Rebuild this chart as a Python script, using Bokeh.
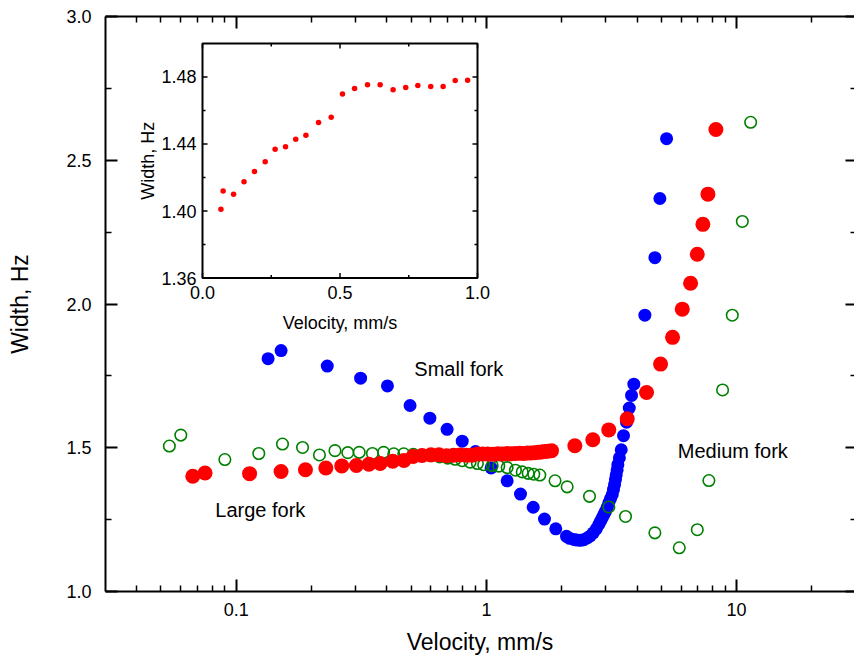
from bokeh.plotting import figure
from bokeh.models import Range1d, FixedTicker, LinearAxis, LogAxis, Label, LinearScale
from bokeh.core.properties import value
from bokeh.embed import file_html
from bokeh.resources import INLINE

FONT = "Liberation Sans"

# ---------------- data ----------------
small_velocity = [0.134, 0.151, 0.231, 0.314, 0.402, 0.495, 0.594, 0.696, 0.800, 0.904,
                  1.044, 1.210, 1.368, 1.538, 1.706, 1.893, 2.089, 2.15, 2.234, 2.30,
                  2.377, 2.45, 2.528, 2.60, 2.673, 2.75, 2.812, 2.86, 2.903, 2.95,
                  2.992, 3.04, 3.084, 3.13, 3.184, 3.22, 3.251, 3.28, 3.302, 3.33,
                  3.352, 3.40, 3.458, 3.532, 3.631, 3.723, 3.802, 3.883, 4.298, 4.714,
                  4.935, 5.248]
small_width = [1.810, 1.838, 1.784, 1.742, 1.715, 1.647, 1.603, 1.564, 1.523, 1.487,
               1.430, 1.385, 1.339, 1.293, 1.252, 1.218, 1.192, 1.185, 1.181, 1.179,
               1.178, 1.180, 1.186, 1.193, 1.204, 1.218, 1.233, 1.245, 1.256, 1.268,
               1.279, 1.293, 1.308, 1.322, 1.337, 1.355, 1.372, 1.390, 1.406, 1.423,
               1.441, 1.465, 1.493, 1.542, 1.589, 1.638, 1.682, 1.721, 1.961, 2.161,
               2.367, 2.575]

large_velocity = [0.067, 0.075, 0.113, 0.151, 0.189, 0.228, 0.264, 0.302, 0.339, 0.376,
                  0.422, 0.468, 0.509, 0.553, 0.600, 0.646, 0.693, 0.739, 0.783, 0.830,
                  0.875, 0.919, 0.964, 1.01, 1.06, 1.11, 1.16, 1.21, 1.26, 1.31,
                  1.36, 1.41, 1.46, 1.51, 1.56, 1.61, 1.66, 1.71, 1.76, 1.82,
                  2.256, 2.662, 3.083, 3.654, 4.365, 4.966, 5.546, 6.064, 6.546, 6.963,
                  7.331, 7.680, 8.265]
large_width = [1.401, 1.412, 1.410, 1.4175, 1.4236, 1.4294, 1.4369, 1.4383, 1.4428, 1.4452,
               1.4529, 1.4559, 1.4698, 1.4731, 1.4753, 1.4753, 1.4723, 1.4737, 1.4749, 1.4743,
               1.4743, 1.4779, 1.4781, 1.478, 1.477, 1.479, 1.478, 1.480, 1.479, 1.480,
               1.481, 1.480, 1.482, 1.482, 1.483, 1.484, 1.485, 1.487, 1.488, 1.490,
               1.507, 1.528, 1.562, 1.601, 1.692, 1.791, 1.884, 1.982, 2.072, 2.173,
               2.277, 2.382, 2.607]

medium_velocity = [0.054, 0.060, 0.090, 0.123, 0.153, 0.184, 0.215, 0.248, 0.279, 0.310,
                   0.350, 0.388, 0.426, 0.467, 0.51, 0.55, 0.60, 0.65, 0.70, 0.75,
                   0.80, 0.86, 0.92, 0.975, 1.054, 1.12, 1.21, 1.306, 1.39, 1.468,
                   1.546, 1.634, 1.88, 2.102, 2.582, 3.085, 3.597, 4.713, 5.899, 6.963,
                   7.748, 8.79, 9.61, 10.54, 11.38]
medium_width = [1.506, 1.544, 1.459, 1.480, 1.513, 1.501, 1.475, 1.490, 1.483, 1.484,
                1.480, 1.484, 1.479, 1.479, 1.477, 1.475, 1.472, 1.468, 1.464, 1.460,
                1.455, 1.450, 1.445, 1.441, 1.438, 1.436, 1.431, 1.422, 1.416, 1.411,
                1.408, 1.405, 1.385, 1.364, 1.331, 1.294, 1.261, 1.204, 1.152, 1.215,
                1.386, 1.701, 1.961, 2.287, 2.632]

inset_velocity = [0.067, 0.075, 0.113, 0.151, 0.189, 0.228, 0.264, 0.302, 0.339, 0.376,
                  0.422, 0.468, 0.509, 0.553, 0.600, 0.646, 0.693, 0.739, 0.783, 0.830,
                  0.875, 0.919, 0.964]
inset_width = [1.401, 1.412, 1.410, 1.4175, 1.4236, 1.4294, 1.4369, 1.4383, 1.4428, 1.4452,
               1.4529, 1.4559, 1.4698, 1.4731, 1.4753, 1.4753, 1.4723, 1.4737, 1.4749, 1.4743,
               1.4743, 1.4779, 1.4781]

x_major_ticks = [0.1, 1, 10]
x_major_labels = ["0.1", "1", "10"]
x_minor_ticks = [0.04, 0.05, 0.06, 0.07, 0.08, 0.09, 0.2, 0.3, 0.4, 0.5, 0.6, 0.7, 0.8, 0.9,
                 2, 3, 4, 5, 6, 7, 8, 9, 20]
y_major_ticks = [1.0, 1.5, 2.0, 2.5, 3.0]
y_major_labels = ["1.0", "1.5", "2.0", "2.5", "3.0"]
y_minor_ticks = [1.25, 1.75, 2.25, 2.75]

inset_x_ticks = [0.0, 0.5, 1.0]
inset_x_labels = ["0.0", "0.5", "1.0"]
inset_x_minor = [0.25, 0.75]
inset_y_ticks = [1.36, 1.40, 1.44, 1.48]
inset_y_labels = ["1.36", "1.40", "1.44", "1.48"]
inset_y_minor = [1.38, 1.42, 1.46]

labels = ["Small fork", "Medium fork", "Large fork"]
label_x = [0.515, 5.82, 0.0824]
label_y = [1.774, 1.487, 1.285]

# ---------------- layout (pixels in figure coords) ----------------
W, H = 854, 657
FL, FT, FR, FB = 105, 16, 854, 592
IL, IR, IT, IB = 202, 477, 43, 278
IX0, IX1, IY0, IY1 = 0.0, 1.0, 1.36, 1.50

ixpp = (IX1 - IX0) / (IR - IL)
iypp = (IY1 - IY0) / (IB - IT)
ix_range = Range1d(IX0 - (IL - FL) * ixpp, IX1 + (FR - IR) * ixpp)
iy_range = Range1d(IY0 - (FB - IB) * iypp, IY1 + (IT - FT) * iypp)

p = figure(width=W, height=H, x_axis_type="log",
           x_range=Range1d(0.03, 29.6), y_range=Range1d(1.0, 3.0),
           output_backend="svg", toolbar_location=None,
           min_border_left=FL, min_border_top=FT, min_border_right=0,
           min_border_bottom=H - FB,
           x_axis_label="Velocity, mm/s", y_axis_label="Width, Hz")
p.extra_x_ranges = {"ix": ix_range}
p.extra_y_ranges = {"iy": iy_range}
p.extra_x_scales = {"ix": LinearScale()}
p.extra_y_scales = {"iy": LinearScale()}
p.outline_line_color = None
p.grid.visible = False
p.background_fill_color = "white"


def style_axis(ax, major_len=12, minor_len=6):
    ax.axis_line_width = 2
    ax.axis_line_color = "black"
    ax.major_tick_in = major_len
    ax.major_tick_out = 0
    ax.minor_tick_in = minor_len
    ax.minor_tick_out = 0
    ax.major_tick_line_width = 2
    ax.minor_tick_line_width = 1.5
    ax.major_label_text_font = FONT
    ax.major_label_text_font_size = "18px"
    ax.major_label_text_color = "black"
    ax.axis_label_text_font = FONT
    ax.axis_label_text_font_size = "23px"
    ax.axis_label_text_font_style = "normal"
    ax.axis_label_text_color = "black"


xax = p.xaxis[0]
xax.ticker = FixedTicker(ticks=x_major_ticks, minor_ticks=x_minor_ticks)
xax.major_label_overrides = dict(zip(x_major_ticks, x_major_labels))
style_axis(xax)
xax.major_label_standoff = 11
xax.axis_label_standoff = 10

yax = p.yaxis[0]
yax.ticker = FixedTicker(ticks=y_major_ticks, minor_ticks=y_minor_ticks)
yax.major_label_overrides = dict(zip(y_major_ticks, y_major_labels))
style_axis(yax)
yax.major_label_standoff = 14
yax.axis_label_standoff = 30

top = LogAxis(ticker=FixedTicker(ticks=x_major_ticks, minor_ticks=x_minor_ticks),
              major_label_overrides={t: "" for t in x_major_ticks})
style_axis(top)
top.major_label_standoff = 0
p.add_layout(top, "above")

right = LinearAxis(ticker=FixedTicker(ticks=y_major_ticks, minor_ticks=y_minor_ticks),
                   major_label_overrides={t: "" for t in y_major_ticks})
style_axis(right, major_len=9, minor_len=4)
right.axis_line_color = None
right.major_label_standoff = 0
p.add_layout(right, "right")

# ---------------- main data ----------------
p.scatter(small_velocity, small_width, size=13, color="#0000FF", line_color=None)
p.scatter(medium_velocity, medium_width, size=11.5, fill_color=None,
          line_color="#008000", line_width=1.6)
p.scatter(large_velocity, large_width, size=15, color="#FF0000", line_color=None)

for t, lx, ly in zip(labels, label_x, label_y):
    p.add_layout(Label(x=lx, y=ly, text=t, text_font=FONT, text_font_size="20px",
                       text_baseline="middle", text_align="left", text_color="black"))

# ---------------- inset ----------------
R = dict(x_range_name="ix", y_range_name="iy")
p.quad(left=[IX0], right=[IX1], bottom=[IY0], top=[IY1], fill_color="white",
       line_color="black", line_width=2, **R)

maj_x, min_x = 5 * iypp, 3 * iypp   # vertical tick lengths (data units)
maj_y, min_y = 5 * ixpp, 3 * ixpp   # horizontal tick lengths (data units)


def vticks(xs, ln):
    n = len(xs)
    p.segment(x0=xs + xs, y0=[IY0] * n + [IY1] * n, x1=xs + xs,
              y1=[IY0 + ln] * n + [IY1 - ln] * n, line_color="black", line_width=1.5, **R)


def hticks(ys, ln):
    n = len(ys)
    p.segment(x0=[IX0] * n + [IX1] * n, y0=ys + ys, x1=[IX0 + ln] * n + [IX1 - ln] * n,
              y1=ys + ys, line_color="black", line_width=1.5, **R)


vticks(inset_x_ticks, maj_x)
vticks(inset_x_minor, min_x)
hticks(inset_y_ticks, maj_y)
hticks(inset_y_minor, min_y)

p.text(x=inset_x_ticks, y=[IY0] * len(inset_x_ticks), text=inset_x_labels,
       text_font=value(FONT), text_font_size="18px", text_align="center",
       text_baseline="top", y_offset=8, **R)
p.text(x=[IX0] * len(inset_y_ticks), y=inset_y_ticks, text=inset_y_labels,
       text_font=value(FONT), text_font_size="18px", text_align="right",
       text_baseline="middle", x_offset=-6, **R)
p.text(x=[(IX0 + IX1) / 2], y=[IY0], text=["Velocity, mm/s"],
       text_font=value(FONT), text_font_size="18px", text_align="center",
       text_baseline="middle", y_offset=45, **R)
p.text(x=[IX0], y=[(IY0 + IY1) / 2], text=["Width, Hz"], angle=1.5707963,
       text_font=value(FONT), text_font_size="18px", text_align="center",
       text_baseline="middle", x_offset=-55, **R)

p.scatter(inset_velocity, inset_width, size=5.5, color="#FF0000", line_color=None, **R)

open("out.html", "w").write(file_html(p, INLINE))
